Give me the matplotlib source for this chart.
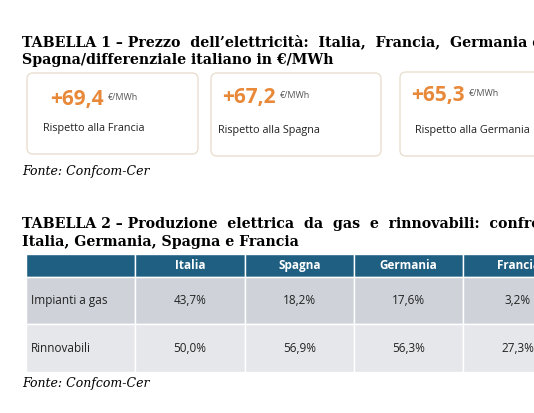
import matplotlib
matplotlib.use("Agg")
import matplotlib.pyplot as plt
from matplotlib.patches import FancyBboxPatch, Rectangle

deltas = ["+69,4", "+67,2", "+65,3"]
delta_labels = ["Rispetto alla Francia", "Rispetto alla Spagna", "Rispetto alla Germania"]
countries = ["Italia", "Spagna", "Germania", "Francia"]
rows = ["Impianti a gas", "Rinnovabili"]
values = [["43,7%", "18,2%", "17,6%", "3,2%"],
          ["50,0%", "56,9%", "56,3%", "27,3%"]]

fig = plt.figure(figsize=(5.34, 4.13), dpi=100)
ax = fig.add_axes([0, 0, 1, 1])
ax.set_xlim(0, 534); ax.set_ylim(413, 0); ax.axis("off")

serif = "DejaVu Serif"
sans = "Open Sans"
tkw = dict(fontfamily=serif, fontweight="bold", fontsize=10.2, va="center")
ax.text(22, 42, "TABELLA 1 – Prezzo  dell’elettricità:  Italia,  Francia,  Germania e", **tkw)
ax.text(22, 60, "Spagna/differenziale italiano in €/MWh", **tkw)

boxes = [(27, 73, 171, 81), (211, 73, 170, 83), (400, 72, 170, 84)]
numpos = [(50, 100), (222, 98), (411, 95)]
labpos = [(43, 129), (218, 130), (415, 130)]
for i, (x, y, w, h) in enumerate(boxes):
    ax.add_patch(FancyBboxPatch((x, y), w, h, boxstyle="round,pad=0,rounding_size=6",
                                fc="white", ec="#eadfd0", lw=1))
    ax.text(numpos[i][0], numpos[i][1], deltas[i], fontfamily=sans, fontweight="bold",
            fontsize=15, color="#e8893a", va="center")
    ax.text(numpos[i][0] + 58, numpos[i][1] - 2, "€/MWh", fontfamily=sans, fontsize=6.5,
            color="#555555", va="center")
    ax.text(labpos[i][0], labpos[i][1], delta_labels[i], fontfamily=sans, fontsize=7.8,
            color="#222222", va="center")

fkw = dict(fontfamily=serif, fontstyle="italic", fontsize=9, va="center")
ax.text(22, 172, "Fonte: Confcom-Cer", **fkw)

ax.text(22, 224, "TABELLA 2 – Produzione  elettrica  da  gas  e  rinnovabili:  confronto tra", **tkw)
ax.text(22, 242, "Italia, Germania, Spagna e Francia", **tkw)

xs = [26, 135, 245, 354, 463, 573]
ytop, yh, yr1, yr2 = 254, 277, 324, 372
for j in range(5):
    x0, x1 = xs[j], xs[j + 1]
    ax.add_patch(Rectangle((x0, ytop), x1 - x0, yh - ytop, fc="#1f5f82", ec="white", lw=1))
    ax.add_patch(Rectangle((x0, yh), x1 - x0, yr1 - yh, fc="#cfd3d9", ec="white", lw=1))
    ax.add_patch(Rectangle((x0, yr1), x1 - x0, yr2 - yr1, fc="#e5e7ea", ec="white", lw=1))
for j, c in enumerate(countries):
    cx = (xs[j + 1] + xs[j + 2]) / 2
    ax.text(cx, (ytop + yh) / 2, c, fontfamily=sans, fontweight="bold", fontsize=8.5,
            color="white", ha="center", va="center")
    for r in range(2):
        cy = (yh + yr1) / 2 if r == 0 else (yr1 + yr2) / 2
        ax.text(cx, cy, values[r][j], fontfamily=sans, fontsize=8.5, color="#222222",
                ha="center", va="center")
for r, lab in enumerate(rows):
    cy = (yh + yr1) / 2 if r == 0 else (yr1 + yr2) / 2
    ax.text(31, cy, lab, fontfamily=sans, fontsize=8.5, color="#222222", va="center")

ax.text(22, 383, "Fonte: Confcom-Cer", **fkw)

fig.savefig("out.png", dpi=100)
